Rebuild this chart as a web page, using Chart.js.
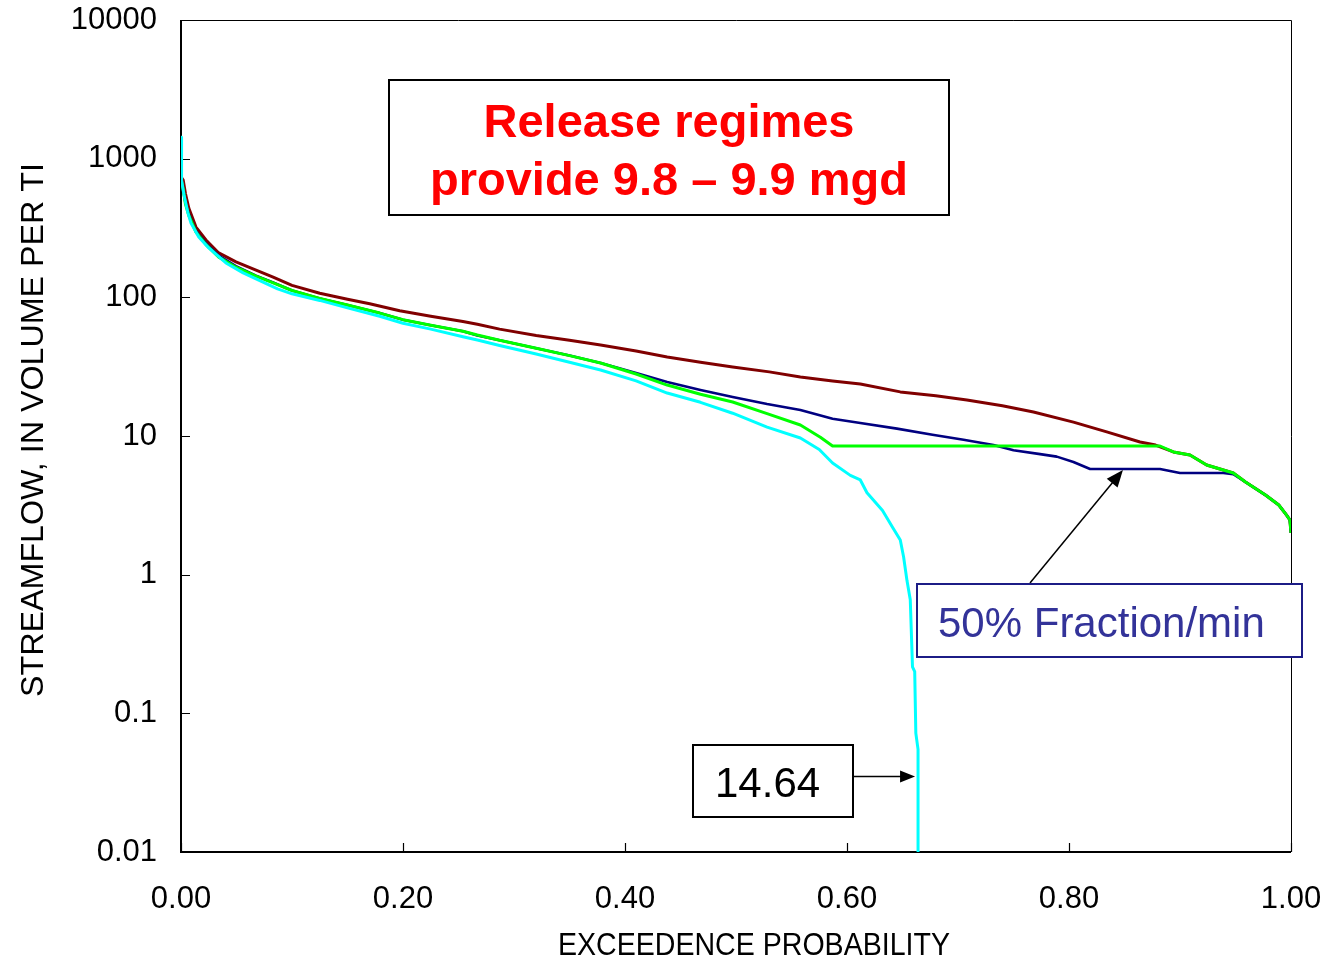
<!DOCTYPE html>
<html>
<head>
<meta charset="utf-8">
<title>Streamflow duration curves</title>
<script src="https://cdn.jsdelivr.net/npm/chart.js"></script>
<style>
  html, body { margin: 0; padding: 0; background: #fff; }
  #wrap { width: 1329px; height: 957px; }
</style>
</head>
<body>
<div id="wrap"><canvas id="fdc" width="1329" height="957"></canvas></div>
<script>
// [exceedence probability, streamflow] pairs for each run
const naturalFlow = [
  [0, 740], [0.002, 700], [0.004, 560], [0.007, 441], [0.0135, 321], [0.0225, 259],
  [0.034, 209], [0.0495, 180], [0.0676, 157], [0.083, 140], [0.1, 122], [0.125, 107],
  [0.15, 97], [0.17, 90], [0.197, 80], [0.225, 73], [0.254, 67], [0.267, 64],
  [0.287, 59], [0.32, 53], [0.35, 49], [0.378, 45.3], [0.41, 41], [0.438, 37.1],
  [0.468, 34], [0.497, 31.5], [0.53, 29], [0.558, 26.6], [0.587, 24.9], [0.612, 23.7],
  [0.648, 20.8], [0.68, 19.5], [0.708, 18.2], [0.74, 16.5], [0.768, 14.9], [0.804, 12.6],
  [0.834, 10.7], [0.864, 9.06], [0.878, 8.6], [0.894, 7.67], [0.909, 7.3], [0.924, 6.18],
  [0.948, 5.41], [0.959, 4.66], [0.977, 3.75], [0.989, 3.18], [0.996, 2.69], [0.999, 2.48],
  [1.0, 2.0]
];
const fraction50 = [
  [0, 740], [0.002, 600], [0.004, 480], [0.007, 400], [0.0135, 300], [0.0225, 245],
  [0.034, 200], [0.0495, 168], [0.0676, 143], [0.083, 128], [0.1, 112], [0.125, 98],
  [0.15, 88], [0.179, 77], [0.2, 69], [0.225, 63], [0.254, 57], [0.267, 53],
  [0.287, 49], [0.32, 43], [0.35, 38], [0.378, 33.6], [0.41, 28.5], [0.438, 24.5],
  [0.468, 21.5], [0.497, 19.1], [0.528, 17], [0.558, 15.4], [0.587, 13.3], [0.612, 12.4],
  [0.645, 11.3], [0.677, 10.2], [0.705, 9.4], [0.732, 8.6], [0.75, 7.9], [0.774, 7.4],
  [0.789, 7.1], [0.804, 6.5], [0.819, 5.78], [0.882, 5.78], [0.9, 5.41], [0.939, 5.41],
  [0.948, 5.3], [0.959, 4.66], [0.977, 3.75], [0.989, 3.18], [0.996, 2.69], [0.999, 2.48],
  [1.0, 2.0]
];
const constantRelease = [
  [0, 720], [0.002, 600], [0.004, 470], [0.007, 390], [0.0135, 295], [0.0225, 240],
  [0.034, 195], [0.0495, 165], [0.0676, 142], [0.083, 127], [0.1, 112], [0.125, 98],
  [0.15, 88], [0.179, 77], [0.2, 69], [0.225, 63], [0.254, 57], [0.267, 53.5],
  [0.287, 49], [0.32, 43], [0.35, 38], [0.378, 33.6], [0.41, 28], [0.438, 23.3],
  [0.468, 20], [0.497, 17.6], [0.528, 14.5], [0.558, 12.0], [0.576, 9.8], [0.587, 8.47],
  [0.882, 8.47], [0.894, 7.67], [0.909, 7.3], [0.924, 6.18], [0.948, 5.41], [0.959, 4.66],
  [0.977, 3.75], [0.989, 3.18], [0.996, 2.69], [0.999, 2.48], [1.0, 2.0]
];
const noRelease = [
  [0, 1430], [0.0005, 700], [0.0027, 547], [0.0063, 405], [0.009, 343], [0.016, 272],
  [0.025, 227], [0.0405, 177], [0.056, 150], [0.07, 133], [0.087, 115], [0.1, 106],
  [0.125, 95], [0.15, 84], [0.179, 73], [0.2, 65], [0.225, 59], [0.254, 52],
  [0.267, 49.2], [0.287, 45], [0.32, 39], [0.35, 34], [0.378, 29.9], [0.41, 25],
  [0.438, 20.4], [0.468, 17.5], [0.497, 14.6], [0.528, 11.6], [0.558, 9.67], [0.575, 8],
  [0.587, 6.38], [0.603, 5.2], [0.612, 4.82], [0.618, 3.9], [0.632, 2.9], [0.641, 2.2],
  [0.648, 1.78], [0.651, 1.34], [0.654, 0.91], [0.657, 0.66], [0.659, 0.216], [0.661, 0.2],
  [0.662, 0.072], [0.664, 0.055], [0.664, 0.01]
];

const xTicks = [0, 0.2, 0.4, 0.6, 0.8, 1.0];
const xTickLabels = ['0.00', '0.20', '0.40', '0.60', '0.80', '1.00'];
const yTicks = [0.01, 0.1, 1, 10, 100, 1000, 10000];
const yTickLabels = ['0.01', '0.1', '1', '10', '100', '1000', '10000'];

// callout targets on the curves
const fractionNote = { p: 0.8486, q: 5.78 };
const cutoffNote = { p: 0.6622, q: 0.035 };

const FONT = '"Liberation Sans", Arial, Helvetica, sans-serif';
const toXY = pts => pts.map(([p, q]) => ({ x: p, y: q }));

function line(label, pts, color, width) {
  return {
    label, data: toXY(pts), borderColor: color, backgroundColor: color,
    borderWidth: width, pointRadius: 0, tension: 0, fill: false,
    borderJoinStyle: 'round'
  };
}

function arrow(ctx, x0, y0, x1, y1, len, half) {
  const a = Math.atan2(y1 - y0, x1 - x0);
  const c = Math.cos(a), s = Math.sin(a);
  ctx.beginPath();
  ctx.moveTo(x0, y0);
  ctx.lineTo(x1 - c * len * 0.9, y1 - s * len * 0.9);
  ctx.stroke();
  ctx.beginPath();
  ctx.moveTo(x1, y1);
  ctx.lineTo(x1 - c * len - s * half, y1 - s * len + c * half);
  ctx.lineTo(x1 - c * len + s * half, y1 - s * len - c * half);
  ctx.closePath();
  ctx.fill();
}

// stretch/squeeze a text run so it spans a given width
function fitText(ctx, text, x, y, width, measured) {
  const w = ctx.measureText(measured || text).width;
  ctx.save();
  ctx.translate(x, y);
  ctx.scale(width / w, 1);
  ctx.fillText(text, 0, 0);
  ctx.restore();
}

const frame = {
  id: 'frame',
  beforeDatasetsDraw(chart) {
    const { ctx, chartArea: a, scales: { x, y } } = chart;
    ctx.save();
    ctx.strokeStyle = '#000';
    ctx.lineWidth = 1;
    ctx.beginPath();
    ctx.moveTo(a.left, a.top + 0.5);
    ctx.lineTo(a.right + 0.5, a.top + 0.5);
    ctx.lineTo(a.right + 0.5, a.bottom);
    ctx.stroke();
    ctx.lineWidth = 2;
    ctx.beginPath();
    ctx.moveTo(a.left, a.top);
    ctx.lineTo(a.left, a.bottom);
    ctx.lineTo(a.right, a.bottom);
    ctx.stroke();
    // tick marks point into the plot
    ctx.lineWidth = 1.2;
    ctx.beginPath();
    yTicks.forEach(v => {
      const py = Math.round(y.getPixelForValue(v)) + 0.5;
      ctx.moveTo(a.left, py); ctx.lineTo(a.left + 9, py);
    });
    xTicks.forEach(v => {
      const px = Math.round(x.getPixelForValue(v)) + 0.5;
      ctx.moveTo(px, a.bottom); ctx.lineTo(px, a.bottom - 9);
    });
    ctx.stroke();
    ctx.restore();
  },
  afterDraw(chart) {
    const { ctx, scales: { x, y } } = chart;
    ctx.save();
    ctx.fillStyle = '#000';
    ctx.textAlign = 'left';
    ctx.textBaseline = 'alphabetic';

    // axis titles (narrow lettering)
    ctx.font = '32px ' + FONT;
    fitText(ctx, 'EXCEEDENCE PROBABILITY', 558, 955, 392);
    ctx.save();
    ctx.beginPath();
    ctx.rect(0, 161, 80, 796);
    ctx.clip();
    ctx.translate(43, 697);
    ctx.rotate(-Math.PI / 2);
    fitText(ctx, 'STREAMFLOW, IN VOLUME PER TIME', 0, 0, 534, 'STREAMFLOW, IN VOLUME PER TI');
    ctx.restore();

    // headline box
    ctx.fillStyle = '#fff';
    ctx.fillRect(389, 80, 560, 135);
    ctx.strokeStyle = '#000';
    ctx.lineWidth = 2;
    ctx.strokeRect(389, 80, 560, 135);
    ctx.fillStyle = '#ff0000';
    ctx.font = 'bold 47px ' + FONT;
    ctx.textAlign = 'center';
    ctx.fillText('Release regimes', 669, 137);
    ctx.fillText('provide 9.8 \u2013 9.9 mgd', 669, 195);

    // fraction callout
    ctx.strokeStyle = '#000';
    ctx.fillStyle = '#000';
    ctx.lineWidth = 1.5;
    arrow(ctx, 1030, 583, x.getPixelForValue(fractionNote.p), y.getPixelForValue(fractionNote.q) + 1, 17, 7);
    ctx.fillStyle = '#fff';
    ctx.fillRect(917, 584, 385, 73);
    ctx.strokeStyle = '#1c1c86';
    ctx.lineWidth = 2;
    ctx.strokeRect(917, 584, 385, 73);
    ctx.fillStyle = '#333399';
    ctx.font = '42px ' + FONT;
    ctx.textAlign = 'left';
    ctx.fillText('50% Fraction/min', 938, 637);

    // cutoff callout
    ctx.strokeStyle = '#000';
    ctx.lineWidth = 2;
    ctx.strokeRect(693, 745, 160, 72);
    ctx.fillStyle = '#000';
    ctx.fillText('14.64', 715, 797);
    ctx.lineWidth = 1.5;
    const ty = y.getPixelForValue(cutoffNote.q);
    arrow(ctx, 853, ty, x.getPixelForValue(cutoffNote.p) - 1, ty, 15, 6);
    ctx.restore();
  }
};

new Chart(document.getElementById('fdc'), {
  type: 'line',
  data: {
    datasets: [
      line('No release', noRelease, '#00ffff', 3),
      line('Constant release', constantRelease, '#00ff00', 3),
      line('50% Fraction/min', fraction50, '#000080', 2.6),
      line('Natural flow', naturalFlow, '#800000', 3)
    ]
  },
  options: {
    responsive: false,
    animation: false,
    devicePixelRatio: 1,
    layout: { padding: { top: 20, right: 38, left: 0, bottom: 0 } },
    plugins: { legend: { display: false }, tooltip: { enabled: false } },
    scales: {
      x: {
        type: 'linear', min: 0, max: 1,
        grid: { display: false, drawTicks: false },
        border: { display: false },
        afterBuildTicks: s => { s.ticks = xTicks.map(v => ({ value: v })); },
        afterFit: s => { s.height = 105; s.paddingLeft = 0; s.paddingRight = 0; },
        ticks: {
          padding: 29, maxRotation: 0, autoSkip: false,
          color: '#000', font: { family: FONT, size: 31 },
          callback: (v, i) => xTickLabels[i]
        }
      },
      y: {
        type: 'logarithmic', min: 0.01, max: 10000,
        grid: { display: false, drawTicks: false },
        border: { display: false },
        afterBuildTicks: s => { s.ticks = yTicks.map(v => ({ value: v })); },
        afterFit: s => { s.width = 181; s.paddingTop = 0; s.paddingBottom = 0; },
        ticks: {
          padding: 24, autoSkip: false,
          color: '#000', font: { family: FONT, size: 31 },
          callback: (v, i) => yTickLabels[i]
        }
      }
    }
  },
  plugins: [frame]
});
</script>
</body>
</html>
